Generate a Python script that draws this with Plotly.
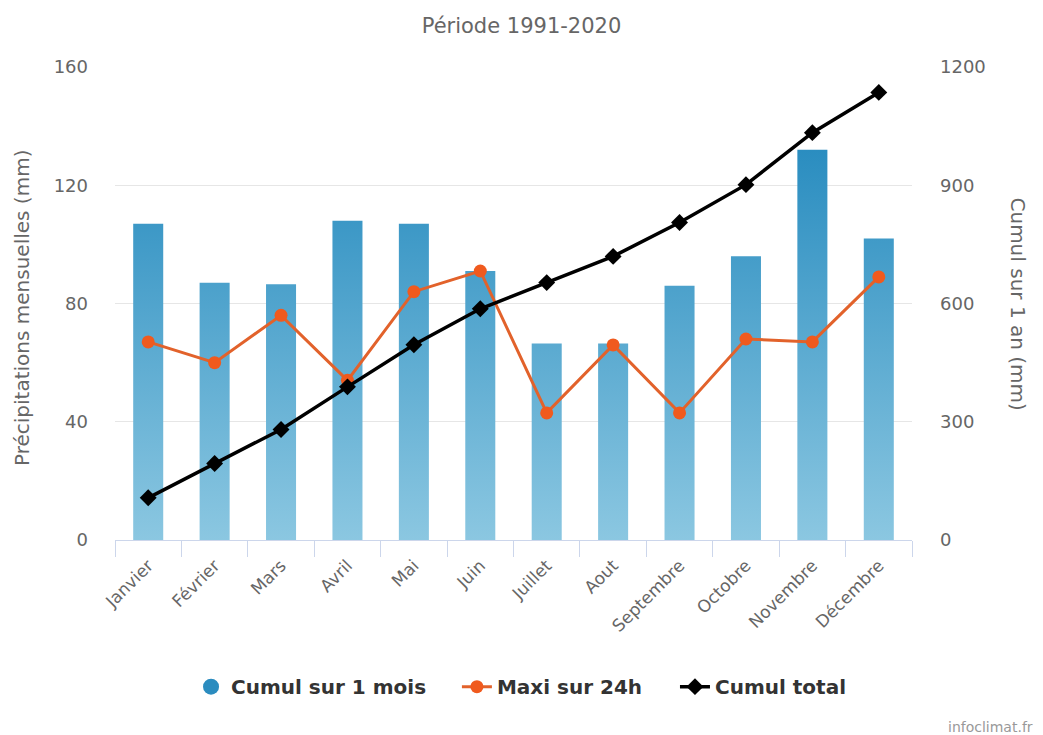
import plotly.graph_objects as go

# Monthly precipitation normals, 1991-2020
months = ["Janvier", "Février", "Mars", "Avril", "Mai", "Juin",
          "Juillet", "Aout", "Septembre", "Octobre", "Novembre", "Décembre"]
cumul_mois = [107, 87, 86.5, 108, 107, 91, 66.5, 66.5, 86, 96, 132, 102]
maxi_24h = [67, 60, 76, 54, 84, 91, 43, 66, 43, 68, 67, 89]
cumul_total = [107, 194, 280.5, 388.5, 495.5, 586.5, 653, 719.5, 805.5, 901.5, 1033.5, 1135.5]

left_ticks = [0, 40, 80, 120, 160]
right_ticks = [0, 300, 600, 900, 1200]

FONT = "DejaVu Sans"
GREY = "#666666"

fig = go.Figure()

# Monthly totals: one rectangle per month, filled with a vertical gradient
half = 0.226
bx, by = [], []
for i, v in enumerate(cumul_mois):
    bx += [i - half, i + half, i + half, i - half, i - half, None]
    by += [0, 0, v, v, 0, None]
fig.add_trace(go.Scatter(
    x=bx, y=by, mode="lines", fill="toself",
    line=dict(width=0),
    fillgradient=dict(type="vertical",
                      colorscale=[[0, "#8bc7e1"], [1, "#2a8dc0"]]),
    showlegend=False, hoverinfo="skip",
))

# Legend entry for the monthly totals
fig.add_trace(go.Scatter(
    x=[None], y=[None], mode="markers", name="Cumul sur 1 mois",
    legend="legend",
    marker=dict(symbol="circle", size=21, color="#2b8cbf"),
))

fig.add_trace(go.Scatter(
    x=list(range(len(months))), y=maxi_24h, mode="lines+markers",
    name="Maxi sur 24h", legend="legend2",
    line=dict(color="#e2622b", width=3),
    marker=dict(symbol="circle", size=13, color="#f05a1e"),
))

fig.add_trace(go.Scatter(
    x=list(range(len(months))), y=cumul_total, mode="lines+markers",
    name="Cumul total", yaxis="y2", legend="legend3",
    line=dict(color="#000000", width=3.5),
    marker=dict(symbol="diamond", size=13, color="#000000"),
))

legend_style = dict(orientation="h", xanchor="left", y=-0.31,
                    yanchor="middle", itemwidth=30,
                    font=dict(size=20, color="#333333", family=FONT,
                              weight="bold"))

fig.update_layout(
    width=1043, height=735,
    margin=dict(l=115, r=131, t=67, b=195),
    paper_bgcolor="white", plot_bgcolor="white",
    font=dict(family=FONT, color=GREY),
    title=dict(text="Période 1991-2020", x=0.5, xanchor="center",
               xref="container", y=1 - 26 / 735, yanchor="middle",
               yref="container", font=dict(size=21, color=GREY)),
    xaxis=dict(
        range=[-0.5, len(months) - 0.5],
        tickmode="array", tickvals=list(range(len(months))), ticktext=months,
        tickangle=-45, ticks="", showgrid=False, zeroline=False,
        showline=True, linecolor="#ccd6eb", linewidth=1,
        tickfont=dict(size=17, color=GREY), ticklabelstandoff=8,
        minor=dict(ticks="outside", tick0=-0.5, dtick=1, ticklen=16,
                   tickcolor="#ccd6eb", tickwidth=1, showgrid=False),
    ),
    yaxis=dict(
        range=[0, 160], tickmode="array", tickvals=left_ticks,
        showgrid=True, gridcolor="#e6e6e6", gridwidth=1, zeroline=False,
        showline=False, ticks="", tickfont=dict(size=18, color=GREY),
        ticklabelstandoff=26,
    ),
    yaxis2=dict(
        range=[0, 1200], tickmode="array", tickvals=right_ticks,
        overlaying="y", side="right", showgrid=False, zeroline=False,
        showline=False, ticks="", tickfont=dict(size=18, color=GREY),
        ticklabelstandoff=27,
    ),
    legend=dict(x=0.0954, **legend_style),
    legend2=dict(x=0.429, **legend_style),
    legend3=dict(x=0.7026, **legend_style),
    annotations=[
        dict(text="Précipitations mensuelles (mm)", textangle=-90,
             xref="paper", yref="paper", x=-0.117, y=0.49,
             xanchor="center", yanchor="middle", showarrow=False,
             font=dict(size=20, color=GREY)),
        dict(text="Cumul sur 1 an (mm)", textangle=90,
             xref="paper", yref="paper", x=1.133, y=0.5,
             xanchor="center", yanchor="middle", showarrow=False,
             font=dict(size=20, color=GREY)),
        dict(text="infoclimat.fr", xref="paper", yref="paper",
             x=1.154, y=-0.395, xanchor="right", yanchor="middle",
             showarrow=False, font=dict(size=14, color="#999999")),
    ],
)

fig.write_html("out.html")
